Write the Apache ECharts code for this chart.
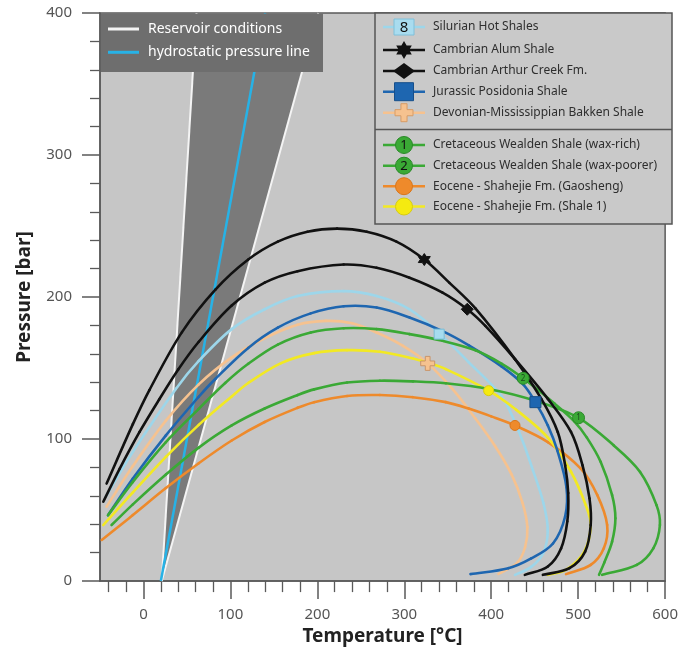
<!DOCTYPE html>
<html><head><meta charset="utf-8">
<script src="https://cdn.jsdelivr.net/npm/echarts@6/dist/echarts.min.js"></script>
<style>html,body{margin:0;padding:0;background:#fff}#c{width:681px;height:651px}</style>
</head><body><div id="c"></div>
<script>
// ---------- axis ticks ----------
const xTicks = [0, 100, 200, 300, 400, 500, 600];
const xMinorTicks = [-40, -20, 20, 40, 60, 80, 120, 140, 160, 180, 220, 240, 260, 280, 320, 340, 360, 380, 420, 440, 460, 480, 520, 540, 560, 580];
const yTicks = [0, 100, 200, 300, 400];

// ---------- reservoir wedge & hydrostatic line [T °C, P bar] ----------
const reservoirLeft = [[21, 0], [61, 400]];
const reservoirRight = [[21, 0], [201, 400]];
const hydrostatic = [[20, 0], [140, 400]];

// ---------- phase envelopes [T °C, P bar] ----------
const alumShale = [[-42.4, 68.7], [-12.2, 110.5], [6.8, 134.5], [44.3, 175.3], [83, 205.4], [120.5, 226.4], [154.5, 239], [188.6, 246], [222.7, 248.2], [256.8, 246], [291, 239], [323, 226.4], [352, 210], [381.8, 192], [427.3, 156.3], [457.6, 128.3], [476.5, 105], [485, 81.5], [488.5, 62], [487.5, 42], [480.3, 23], [465.1, 10.3], [438.6, 4.4]];
const arthurCreek = [[-46.2, 55.9], [-27.3, 79.2], [-4.5, 105], [18.2, 128], [40, 149], [63.6, 168.5], [101.5, 194], [139.4, 210.1], [177.3, 218.2], [230.3, 222.9], [268.2, 220.6], [306, 213.6], [344, 203.1], [372.4, 191.4], [393.2, 179.7], [427.3, 156.3], [465.1, 128.3], [491.7, 105], [505, 81.5], [513, 58.2], [514.4, 39.5], [508, 20.8], [490, 9.1], [459.4, 4.4]];
const silurian = [[-43.2, 59.6], [-12.2, 91], [37.2, 135.3], [63.6, 155], [101.5, 177.4], [139.4, 191.4], [177.3, 200.7], [230.3, 204.2], [268.2, 200.7], [306, 191.4], [340.1, 174.6], [374.2, 154], [412, 130], [432, 105], [448, 78], [460, 55], [465, 36], [460, 20], [446, 10], [427.3, 4.4]];
const posidonia = [[-40.6, 46.5], [-12.2, 72.2], [25.8, 102.6], [63.6, 129.8], [82.6, 142.3], [120.5, 164.2], [154.5, 178.5], [192.4, 188.5], [230.3, 193.5], [268.2, 192.6], [306, 185.6], [344, 176], [374.2, 166], [412.2, 151], [436.7, 138.5], [450.8, 126], [465.1, 109.6], [476, 92], [486.5, 66], [485, 45.5], [471, 26.5], [446, 16], [419.7, 9.1], [376.1, 4.9]];
const bakken = [[-42.5, 52.4], [-12.2, 81], [25.8, 113], [63.6, 138.5], [101.5, 157.5], [139.4, 171], [177.3, 180.5], [210, 183.2], [240, 181.5], [268.2, 175], [298.5, 165.6], [326.9, 153.3], [355.3, 135.3], [381.8, 114.5], [404.5, 95], [423.5, 75], [436, 55], [441.5, 38], [439, 24], [430, 13], [408.3, 5]];
const wealdenRich = [[-36.7, 39.5], [-12.2, 54], [25.8, 75], [63.6, 94], [101.5, 109.6], [139.4, 121.5], [177.3, 131], [196.3, 135], [234.1, 139.8], [271.9, 141.1], [309.9, 140.6], [347.7, 139.3], [397, 135.3], [450, 127.1], [500.4, 115], [541, 95.5], [571.2, 76.9], [590.1, 53.5], [594, 39.5], [586.4, 23.1], [567.4, 11.4], [527.6, 4.4]];
const wealdenPoor = [[-40.9, 46.3], [-12.2, 69.9], [25.8, 97.9], [63.6, 121.3], [94, 139.5], [120.5, 153], [154.5, 166.5], [192.4, 175], [230.3, 178], [268.2, 177.4], [306, 173.9], [344, 169.2], [381.8, 162.5], [412.2, 153], [436.7, 142.8], [472.7, 125], [495.5, 112.5], [510, 101], [525.8, 84], [539, 60.5], [542.8, 44.2], [539, 27.8], [530, 13], [524, 4.4]];
const gaosheng = [[-48, 29], [-12.2, 46.5], [25.8, 65.5], [63.6, 83], [101.5, 99], [139.4, 112], [177.3, 122], [196.3, 126], [234.1, 130.3], [271.9, 131], [309.9, 129.5], [347.7, 126], [374, 121.5], [400, 116], [427.3, 109.6], [465.1, 97.9], [503, 79.2], [522, 60.5], [533.3, 39.5], [529.5, 23.1], [514.4, 11.4], [486, 4.9]];
const shale1 = [[-46.2, 39.5], [-12.2, 62.5], [25.8, 87.5], [63.6, 110], [101.5, 130], [120.5, 139.5], [158.3, 153.5], [196.3, 160.5], [234.1, 162.6], [271.9, 161.5], [309.9, 156.8], [326.9, 153.8], [347.7, 149.3], [397, 134.1], [429, 120.5], [465.1, 101], [491.7, 77], [508.7, 53.5], [514.4, 39.5], [507, 20.8], [486, 8], [465.1, 4.4]];

// ---------- critical points ----------
const cpSilurian = [[340.1, 173.9]];
const cpAlum = [[323, 226.4]];
const cpArthur = [[372.4, 191.4]];
const cpPosidonia = [[450.8, 126]];
const cpBakken = [[326.9, 153.3]];
const cpWealdenRich = [[500.4, 115]];
const cpWealdenPoor = [[436.7, 142.8]];
const cpGaosheng = [[427.3, 109.6]];
const cpShale1 = [[397, 134.1]];

// ---------- legend texts ----------
const legendTop = ['Reservoir conditions', 'hydrostatic pressure line'];
const legendNames = ['Silurian Hot Shales', 'Cambrian Alum Shale', 'Cambrian Arthur Creek Fm.', 'Jurassic Posidonia Shale', 'Devonian-Mississippian Bakken Shale', 'Cretaceous Wealden Shale (wax-rich)', 'Cretaceous Wealden Shale (wax-poorer)', 'Eocene - Shahejie Fm. (Gaosheng)', 'Eocene - Shahejie Fm. (Shale 1)'];

const C = {
  silurian: '#9dd6ea', black: '#111111', posidonia: '#1e66b0', bakken: '#f6c28f',
  green: '#3aa935', orange: '#ee8a2b', yellow: '#f2e923', hydro: '#27b2e6', white: '#f4f4f4'
};
const FONT = 'Noto Sans';

function starPts(cx, cy, R) {
  const pts = [];
  for (let i = 0; i < 12; i++) {
    const a = -Math.PI / 2 + i * Math.PI / 6;
    const r = i % 2 ? R * 0.58 : R;
    pts.push([cx + r * Math.cos(a), cy + r * Math.sin(a)]);
  }
  return pts;
}
function starPath() {
  return 'path://' + starPts(50, 50, 50).map((p, i) => (i ? 'L' : 'M') + p[0].toFixed(1) + ',' + p[1].toFixed(1)).join(' ') + ' Z';
}
function crossPts(cx, cy, s) {
  const a = s * 0.5, b = s * 0.17;
  return [[cx - b, cy - a], [cx + b, cy - a], [cx + b, cy - b], [cx + a, cy - b], [cx + a, cy + b], [cx + b, cy + b], [cx + b, cy + a], [cx - b, cy + a], [cx - b, cy + b], [cx - a, cy + b], [cx - a, cy - b], [cx - b, cy - b]];
}
const crossPath = 'path://M33,0 L67,0 L67,33 L100,33 L100,67 L67,67 L67,100 L33,100 L33,67 L0,67 L0,33 L33,33 Z';

// smooth curve through pixel points (chord-scaled tangents)
function splineSegments(P, color, width) {
  const n = P.length, segs = [];
  const tan = P.map((p, i) => {
    const a = P[Math.max(0, i - 1)], b = P[Math.min(n - 1, i + 1)];
    const dx = b[0] - a[0], dy = b[1] - a[1], L = Math.hypot(dx, dy) || 1;
    return [dx / L, dy / L];
  });
  for (let i = 0; i < n - 1; i++) {
    const p = P[i], q = P[i + 1];
    const d = Math.hypot(q[0] - p[0], q[1] - p[1]) / 3;
    segs.push({ type: 'bezierCurve', shape: {
      x1: p[0], y1: p[1], x2: q[0], y2: q[1],
      cpx1: p[0] + tan[i][0] * d, cpy1: p[1] + tan[i][1] * d,
      cpx2: q[0] - tan[i + 1][0] * d, cpy2: q[1] - tan[i + 1][1] * d },
      style: { stroke: color, lineWidth: width, fill: null, lineCap: 'round' } });
  }
  return segs;
}
function envelope(name, data, color, width, z) {
  return { name, type: 'custom', data: data, z: z || 3, silent: true, clip: true,
    renderItem: function (params, api) {
      if (params.dataIndex !== 0) return null;
      const pts = data.map(d => api.coord(d));
      return { type: 'group', children: splineSegments(pts, color, width || 2.6) };
    } };
}
function critical(name, data, symbol, size, color, border, text) {
  return { name: name + ' cp', type: 'scatter', data, symbol, symbolSize: size, z: 6,
    itemStyle: { color, borderColor: border, borderWidth: 1, opacity: 1 },
    label: text ? { show: true, formatter: text, position: 'inside', fontSize: 8, color: '#1c4a1c', fontFamily: FONT } : { show: false } };
}

// ---------- legend graphics ----------
const graphics = [];
graphics.push({ type: 'rect', shape: { x: 101, y: 13.5, width: 222, height: 58.5 }, style: { fill: '#6e6e6e' }, z: 100 });
[[29, C.white], [52.3, C.hydro]].forEach((r, i) => {
  graphics.push({ type: 'line', shape: { x1: 108, y1: r[0], x2: 139, y2: r[0] }, style: { stroke: r[1], lineWidth: 3 }, z: 101 });
  graphics.push({ type: 'text', x: 148, y: r[0], style: { text: legendTop[i], fill: '#ffffff', fontSize: 14, fontFamily: FONT, align: 'left', verticalAlign: 'middle', textAlign: 'left', textVerticalAlign: 'middle' }, z: 101 });
});
const LX = 375, LY = 13, LW = 297, LH = 211;
graphics.push({ type: 'rect', shape: { x: LX, y: LY, width: LW, height: LH }, style: { fill: '#c9c9c9', stroke: '#555', lineWidth: 1.5 }, z: 100 });
graphics.push({ type: 'line', shape: { x1: LX, y1: 129.5, x2: LX + LW, y2: 129.5 }, style: { stroke: '#555', lineWidth: 1.5 }, z: 101 });
const rowY = [27, 50, 71, 91.7, 112.7, 145, 165.7, 186.2, 206.5];
const rowColor = [C.silurian, C.black, C.black, C.posidonia, C.bakken, C.green, C.green, C.orange, C.yellow];
const mx = 404;
rowY.forEach((y, i) => {
  graphics.push({ type: 'line', shape: { x1: 383, y1: y, x2: 425, y2: y }, style: { stroke: rowColor[i], lineWidth: 2.5 }, z: 101 });
  graphics.push({ type: 'text', x: 433, y: y, style: { text: legendNames[i], fill: '#2e2e2e', fontSize: 12, fontFamily: FONT, align: 'left', verticalAlign: 'middle', textAlign: 'left', textVerticalAlign: 'middle' }, z: 101 });
});
graphics.push({ type: 'rect', shape: { x: mx - 10, y: rowY[0] - 8, width: 20, height: 16 }, style: { fill: '#a9dcef', stroke: '#7fc0da', lineWidth: 1 }, z: 102 });
graphics.push({ type: 'text', x: mx, y: rowY[0] + 1, style: { text: '8', fill: '#111', fontSize: 15, fontFamily: FONT, align: 'center', verticalAlign: 'middle', textAlign: 'center', textVerticalAlign: 'middle' }, z: 103 });
graphics.push({ type: 'polygon', shape: { points: starPts(mx, rowY[1], 9) }, style: { fill: '#111' }, z: 102 });
graphics.push({ type: 'polygon', shape: { points: [[mx, rowY[2] - 8], [mx + 11, rowY[2]], [mx, rowY[2] + 8], [mx - 11, rowY[2]]] }, style: { fill: '#111' }, z: 102 });
graphics.push({ type: 'rect', shape: { x: mx - 9.5, y: rowY[3] - 9, width: 19, height: 18 }, style: { fill: C.posidonia, stroke: '#174f8a', lineWidth: 1 }, z: 102 });
graphics.push({ type: 'polygon', shape: { points: crossPts(mx, rowY[4], 18) }, style: { fill: C.bakken, stroke: '#d79c66', lineWidth: 1 }, z: 102 });
[['1', rowY[5], C.green], ['2', rowY[6], C.green], ['', rowY[7], C.orange], ['', rowY[8], '#f5ea10']].forEach(m => {
  graphics.push({ type: 'circle', shape: { cx: mx, cy: m[1], r: 8.5 }, style: { fill: m[2], stroke: m[2] === C.green ? '#2a8a28' : (m[2] === C.orange ? '#d9761a' : '#d8cc10'), lineWidth: 1 }, z: 102 });
  if (m[0]) graphics.push({ type: 'text', x: mx, y: m[1] + 0.5, style: { text: m[0], fill: '#111', fontSize: 13, fontFamily: FONT, align: 'center', verticalAlign: 'middle', textAlign: 'center', textVerticalAlign: 'middle' }, z: 103 });
});

const axisColor = '#5a5a5a';
const option = {
  animation: false,
  backgroundColor: '#ffffff',
  grid: { left: 100, right: 9, top: 13, bottom: 68, show: true, backgroundColor: '#c6c6c6', borderColor: '#5a5a5a', borderWidth: 1.5 },
  xAxis: [{
    type: 'value', min: -50, max: 600, position: 'bottom',
    axisLine: { show: true, onZero: false, lineStyle: { color: axisColor, width: 1.5 } },
    axisTick: { show: true, customValues: xTicks, length: 18, lineStyle: { color: axisColor, width: 1.5 } },
    axisLabel: { customValues: xTicks, color: '#555', fontSize: 15, margin: 26, fontFamily: FONT },
    splitLine: { show: false },
    name: 'Temperature [°C]', nameLocation: 'middle', nameGap: 45,
    nameTextStyle: { color: '#222', fontSize: 19, fontWeight: 'bold', fontFamily: FONT }
  }, {
    type: 'value', min: -50, max: 600, position: 'bottom',
    axisLine: { show: false, onZero: false },
    axisTick: { show: true, customValues: xMinorTicks, length: 11, lineStyle: { color: axisColor, width: 1.3 } },
    axisLabel: { show: false }, splitLine: { show: false }
  }],
  yAxis: {
    type: 'value', min: 0, max: 400, interval: 100,
    axisLine: { show: true, onZero: false, lineStyle: { color: axisColor, width: 1.5 } },
    axisTick: { show: true, length: 18, lineStyle: { color: axisColor, width: 1.5 } },
    minorTick: { show: true, splitNumber: 5, length: 10, lineStyle: { color: axisColor, width: 1.3 } },
    axisLabel: { color: '#555', fontSize: 15, margin: 28, fontFamily: FONT },
    splitLine: { show: false },
    name: 'Pressure [bar]', nameLocation: 'middle', nameGap: 66,
    nameTextStyle: { color: '#222', fontSize: 19, fontWeight: 'bold', fontFamily: FONT }
  },
  graphic: graphics,
  series: [
    { type: 'custom', name: 'wedge', data: [[0, 0]], z: 1, silent: true, clip: true,
      renderItem: function (params, api) {
        const pts = reservoirLeft.map(d => api.coord(d)).concat(reservoirRight.slice().reverse().map(d => api.coord(d)));
        return { type: 'polygon', shape: { points: pts }, style: { fill: '#7a7a7a' } };
      } },
    { name: 'Reservoir left', type: 'line', data: reservoirLeft, symbol: 'none', z: 2, lineStyle: { color: C.white, width: 2 } },
    { name: 'Reservoir right', type: 'line', data: reservoirRight, symbol: 'none', z: 2, lineStyle: { color: C.white, width: 2 } },
    { name: 'Hydrostatic', type: 'line', data: hydrostatic, symbol: 'none', z: 2, lineStyle: { color: C.hydro, width: 2.5 } },
    envelope('Bakken', bakken, C.bakken),
    envelope('Silurian', silurian, C.silurian),
    envelope('Gaosheng', gaosheng, C.orange),
    envelope('Shale 1', shale1, C.yellow),
    envelope('Posidonia', posidonia, C.posidonia),
    envelope('Wealden rich', wealdenRich, C.green),
    envelope('Wealden poor', wealdenPoor, C.green),
    envelope('Alum', alumShale, C.black),
    envelope('Arthur', arthurCreek, C.black),
    critical('Silurian', cpSilurian, 'rect', 10, '#a6dcef', '#79bcd6'),
    critical('Alum', cpAlum, starPath(), 12, '#111', '#111'),
    critical('Arthur', cpArthur, 'diamond', 12, '#111', '#111'),
    critical('Posidonia', cpPosidonia, 'rect', 11, C.posidonia, '#174f8a'),
    critical('Bakken', cpBakken, crossPath, 14, C.bakken, '#c8946a'),
    critical('Wealden rich', cpWealdenRich, 'circle', 12, C.green, '#2a8a28', '1'),
    critical('Wealden poor', cpWealdenPoor, 'circle', 12, C.green, '#2a8a28', '2'),
    critical('Gaosheng', cpGaosheng, 'circle', 10, C.orange, '#d9761a'),
    critical('Shale 1', cpShale1, 'circle', 10, '#f5ea10', '#d8cc10')
  ]
};
const chart = echarts.init(document.getElementById('c'));
chart.setOption(option);
</script>
</body></html>
